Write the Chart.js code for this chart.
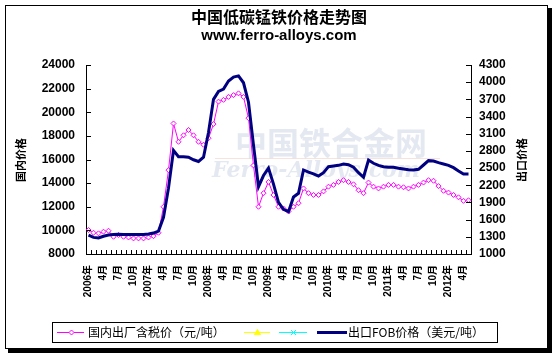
<!DOCTYPE html>
<html>
<head>
<meta charset="utf-8">
<script src="https://cdn.jsdelivr.net/npm/chart.js@4/dist/chart.umd.min.js"></script>
<style>
html,body{margin:0;padding:0;background:#fff;}
canvas{display:block;}
</style>
</head>
<body>
<canvas id="c" width="554" height="358"></canvas>
<script>
const chartTitle = '中国低碳锰铁价格走势图';
const chartSubtitle = 'www.ferro-alloys.com';
const leftAxisTitle = '国内价格';
const rightAxisTitle = '出口价格';

// monthly categories Jan 2006 - May 2012 (tick labels every quarter)
const xLabels = [
 '2006年','','','4月','','','7月','','','10月','','',
 '2007年','','','4月','','','7月','','','10月','','',
 '2008年','','','4月','','','7月','','','10月','','',
 '2009年','','','4月','','','7月','','','10月','','',
 '2010年','','','4月','','','7月','','','10月','','',
 '2011年','','','4月','','','7月','','','10月','','',
 '2012年','','','4月',''
];

const domesticLabel = '国内出厂含税价（元/吨）';
const domesticPrice = [
 10030, 9800, 9750, 9890, 9970, 9460, 9610, 9460, 9400, 9320, 9320, 9320,
 9400, 9510, 9800, 12000, 15100, 19050, 17500, 18050, 18500, 18050, 17500, 17250,
 17800, 19000, 20900, 21050, 21300, 21450, 21600, 21300, 19500, 15500, 12000, 13150,
 14100, 13000, 12000, 11850, 11600, 12000, 12300, 13550, 13150, 13000, 13000, 13300,
 13700, 13850, 14100, 14250, 14100, 13900, 13400, 13150, 14050, 13700, 13550, 13700,
 13850, 13850, 13700, 13650, 13550, 13700, 13850, 14050, 14250, 14200, 13750, 13350,
 13200, 13000, 12800, 12500, 12550
];

const exportLabel = '出口FOB价格（美元/吨）';
const exportPrice = [
 1330, 1290, 1280, 1310, 1330, 1340, 1345, 1340, 1340, 1340, 1340, 1340,
 1350, 1365, 1400, 1640, 2150, 2810, 2700, 2700, 2690, 2645, 2615, 2690,
 3120, 3700, 3840, 3880, 4020, 4090, 4110, 3990, 3650, 2900, 2175, 2370,
 2500, 2220, 1900, 1780, 1740, 1995, 2060, 2467, 2430, 2400, 2360, 2420,
 2525, 2537, 2548, 2572, 2560, 2514, 2420, 2340, 2641, 2584, 2548, 2525,
 2514, 2514, 2497, 2485, 2473, 2467, 2479, 2554, 2630, 2624, 2595, 2572,
 2548, 2508, 2450, 2397, 2397
];

const emptySeries1 = [];
const emptySeries2 = [];

const leftAxis = {min: 8000, max: 24000, step: 2000};
const rightAxis = {min: 1000, max: 4300, step: 300};

const CJK = '"Noto Sans CJK SC", "Noto Sans", sans-serif';
const NUM = 'Arial, "Liberation Sans", "Noto Sans CJK SC", sans-serif';

const decorPlugin = {
  id: 'decor',
  beforeDraw(chart) {
    const ctx = chart.ctx;
    ctx.save();
    ctx.fillStyle = '#fff';
    ctx.fillRect(0, 0, chart.width, chart.height);
    // frame with shadow
    ctx.fillStyle = '#000';
    ctx.fillRect(548, 8, 4, 345);
    ctx.fillRect(8, 349, 544, 4);
    ctx.strokeStyle = '#000';
    ctx.lineWidth = 1;
    ctx.strokeRect(5.5, 5.5, 542, 343);
    // titles
    ctx.fillStyle = '#000';
    ctx.textAlign = 'center';
    ctx.textBaseline = 'middle';
    ctx.font = 'bold 16px ' + CJK;
    ctx.fillText(chartTitle, 279, 17);
    ctx.font = 'bold 15px ' + NUM;
    ctx.fillText(chartSubtitle, 279, 36);
    ctx.restore();
  },
  beforeDatasetsDraw(chart) {
    const ctx = chart.ctx;
    ctx.save();
    ctx.textAlign = 'center';
    ctx.textBaseline = 'middle';
    ctx.fillStyle = 'rgba(205,213,230,0.55)';
    ctx.font = 'bold 32px ' + CJK;
    ctx.fillText('中国铁合金网', 331, 143);
    ctx.strokeStyle = 'rgba(240,200,190,0.5)';
    ctx.lineWidth = 1;
    ctx.beginPath(); ctx.moveTo(215, 158.5); ctx.lineTo(440, 158.5); ctx.stroke();
    ctx.fillStyle = 'rgba(205,213,230,0.55)';
    ctx.font = 'italic bold 22px "DejaVu Serif", "Liberation Serif", serif';
    ctx.fillText('Ferro-Alloys.com', 316, 171);
    ctx.restore();
  },
  afterDraw(chart) {
    const ctx = chart.ctx;
    const a = chart.chartArea;
    ctx.save();
    ctx.strokeStyle = '#000';
    ctx.lineWidth = 1;
    // inward tick marks
    const yl = chart.scales.y, yr = chart.scales.y1, xs = chart.scales.x;
    ctx.beginPath();
    yl.ticks.forEach(t => { const p = Math.round(yl.getPixelForValue(t.value)) + 0.5; ctx.moveTo(a.left, p); ctx.lineTo(a.left + 5, p); });
    yr.ticks.forEach(t => { const p = Math.round(yr.getPixelForValue(t.value)) + 0.5; ctx.moveTo(a.right - 5, p); ctx.lineTo(a.right, p); });
    const n = xLabels.length;
    const w = (a.right - a.left) / n;
    for (let k = 0; k <= n; k++) {
      const p = Math.round(xs.getPixelForValue(0) - w / 2 + k * w) + 0.5;
      ctx.moveTo(p, a.bottom); ctx.lineTo(p, a.bottom - 4);
    }
    ctx.stroke();
    // axis titles
    ctx.fillStyle = '#000';
    ctx.font = 'bold 11px ' + CJK;
    ctx.textAlign = 'center';
    ctx.textBaseline = 'middle';
    ctx.save(); ctx.translate(21, 160); ctx.rotate(-Math.PI / 2); ctx.fillText(leftAxisTitle, 0, 0); ctx.restore();
    ctx.save(); ctx.translate(522, 160); ctx.rotate(-Math.PI / 2); ctx.fillText(rightAxisTitle, 0, 0); ctx.restore();
    // legend
    const ds = chart.data.datasets;
    ctx.strokeStyle = '#000';
    ctx.strokeRect(52.5, 322.5, 445, 20);
    const ly = 332.5;
    const items = [
      {d: ds[0], x0: 57, x1: 84, tx: 88},
      {d: ds[2], x0: 244, x1: 270},
      {d: ds[3], x0: 279, x1: 307},
      {d: ds[1], x0: 317, x1: 347, tx: 348}
    ];
    items.forEach(it => {
      const d = it.d;
      ctx.strokeStyle = d.borderColor;
      ctx.lineWidth = d.borderWidth;
      ctx.beginPath(); ctx.moveTo(it.x0, ly); ctx.lineTo(it.x1, ly); ctx.stroke();
      if (d.pointRadius > 0) {
        ctx.fillStyle = d.pointBackgroundColor;
        ctx.strokeStyle = d.pointBorderColor;
        ctx.lineWidth = 1;
        ctx.beginPath();
        const cx = Math.round((it.x0 + it.x1) / 2) + 0.5, r = d.pointRadius;
        if (d.pointStyle === 'rectRot') {
          ctx.moveTo(cx, ly - r); ctx.lineTo(cx + r, ly); ctx.lineTo(cx, ly + r); ctx.lineTo(cx - r, ly); ctx.closePath();
          ctx.fill(); ctx.stroke();
        } else if (d.pointStyle === 'triangle') {
          ctx.moveTo(cx, ly - r); ctx.lineTo(cx + r, ly + r * 0.7); ctx.lineTo(cx - r, ly + r * 0.7); ctx.closePath();
          ctx.fill(); ctx.stroke();
        } else if (d.pointStyle === 'crossRot') {
          ctx.moveTo(cx - r, ly - r); ctx.lineTo(cx + r, ly + r); ctx.moveTo(cx + r, ly - r); ctx.lineTo(cx - r, ly + r); ctx.stroke();
        }
      }
      if (it.tx) {
        ctx.fillStyle = '#000';
        ctx.font = '12px ' + CJK;
        ctx.textAlign = 'left';
        ctx.fillText(d.label, it.tx, ly);
      }
    });
    ctx.restore();
  }
};

new Chart(document.getElementById('c'), {
  type: 'line',
  data: {
    labels: xLabels,
    datasets: [
      {label: domesticLabel, data: domesticPrice, yAxisID: 'y', borderColor: '#ff00ff', borderWidth: 1,
       pointStyle: 'rectRot', pointRadius: 2.5, pointBorderColor: '#ff00ff', pointBackgroundColor: '#ffffff', pointBorderWidth: 1, tension: 0, order: 2},
      {label: exportLabel, data: exportPrice, yAxisID: 'y1', borderColor: '#000080', borderWidth: 3,
       pointRadius: 0, tension: 0, order: 1},
      {label: '', data: emptySeries1, yAxisID: 'y', borderColor: '#ffff00', borderWidth: 1,
       pointStyle: 'triangle', pointRadius: 3, pointBorderColor: '#ffff00', pointBackgroundColor: '#ffff00'},
      {label: '', data: emptySeries2, yAxisID: 'y', borderColor: '#00ffff', borderWidth: 1,
       pointStyle: 'crossRot', pointRadius: 2.5, pointBorderColor: '#00ffff', pointBackgroundColor: '#00ffff'}
    ]
  },
  options: {
    responsive: false,
    animation: false,
    devicePixelRatio: 1,
    layout: {padding: {top: 65, left: 0, right: 0, bottom: 0}},
    plugins: {legend: {display: false}, tooltip: {enabled: false}, title: {display: false}},
    scales: {
      x: {
        type: 'category', offset: true,
        grid: {display: true, drawOnChartArea: false, drawTicks: false, offset: true},
        border: {display: true, color: '#000', width: 1},
        ticks: {autoSkip: false, maxRotation: 90, minRotation: 90, padding: 11, color: '#000',
                font: {family: NUM, size: 10, weight: 'bold'},
                callback: (v, i) => xLabels[i]},
        afterFit: s => { s.height = 104; }
      },
      y: {
        position: 'left', min: leftAxis.min, max: leftAxis.max,
        grid: {display: true, drawOnChartArea: false, drawTicks: false},
        border: {display: true, color: '#000', width: 1},
        ticks: {stepSize: leftAxis.step, autoSkip: false, padding: 11, color: '#000',
                font: {family: NUM, size: 12, weight: 'bold'}, callback: v => String(v)},
        afterFit: s => { s.width = 86; }
      },
      y1: {
        position: 'right', min: rightAxis.min, max: rightAxis.max,
        grid: {display: true, drawOnChartArea: false, drawTicks: false},
        border: {display: true, color: '#000', width: 1},
        ticks: {stepSize: rightAxis.step, autoSkip: false, padding: 8, color: '#000',
                font: {family: NUM, size: 12, weight: 'bold'}, callback: v => String(v)},
        afterFit: s => { s.width = 83; }
      }
    }
  },
  plugins: [decorPlugin]
});
</script>
</body>
</html>
